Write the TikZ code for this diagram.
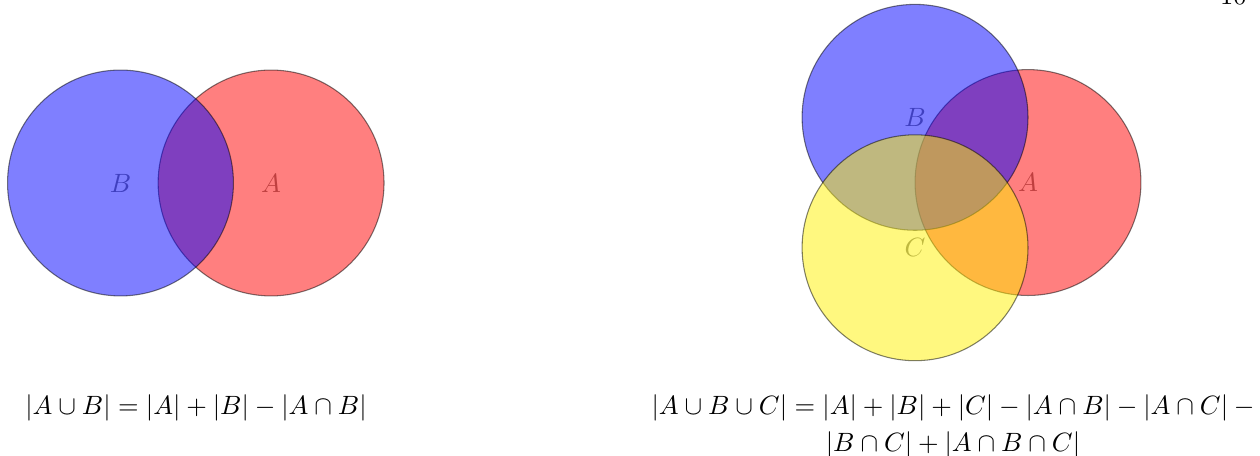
\documentclass[tikz,border=0pt]{standalone}
\usepackage{amsmath,amssymb}
\usepackage{tikz}

\begin{document}
\begin{tikzpicture}
  \useasboundingbox (0,0) rectangle (16.733,-6.043);
  % page number, mostly cut off
  \node[anchor=base] (page) at (16.38,-0.066) {10};
  % two sets
  \node[opacity=0.5] (la2) at (3.60,-2.43) {$A$};
  \node[opacity=0.5] (lb2) at (1.60,-2.43) {$B$};
  \draw[fill=red,opacity=0.5] (la2.center) circle (1.5);
  \draw[fill=blue,opacity=0.5] (lb2.center) circle (1.5);
  \node[anchor=base] (sum2) at (2.603,-5.499) {$|A\cup B| = |A| + |B| - |A\cap B|$};
  % three sets
  \node[opacity=0.5] (la3) at (13.652,-2.424) {$A$};
  \node[opacity=0.5] (lb3) at (12.152,-1.558) {$B$};
  \node[opacity=0.5] (lc3) at (12.152,-3.290) {$C$};
  \draw[fill=red,opacity=0.5] (la3.center) circle (1.5);
  \draw[fill=blue,opacity=0.5] (lb3.center) circle (1.5);
  \draw[fill=yellow,opacity=0.5] (lc3.center) circle (1.5);
  \node[anchor=base] (sum3a) at (12.696,-5.499) {$|A\cup B\cup C| = |A| + |B| + |C| - |A\cap B| - |A\cap C| -{}$};
  \node[anchor=base] (sum3b) at (12.656,-5.99) {$|B\cap C| + |A\cap B\cap C|$};
\end{tikzpicture}
\end{document}
